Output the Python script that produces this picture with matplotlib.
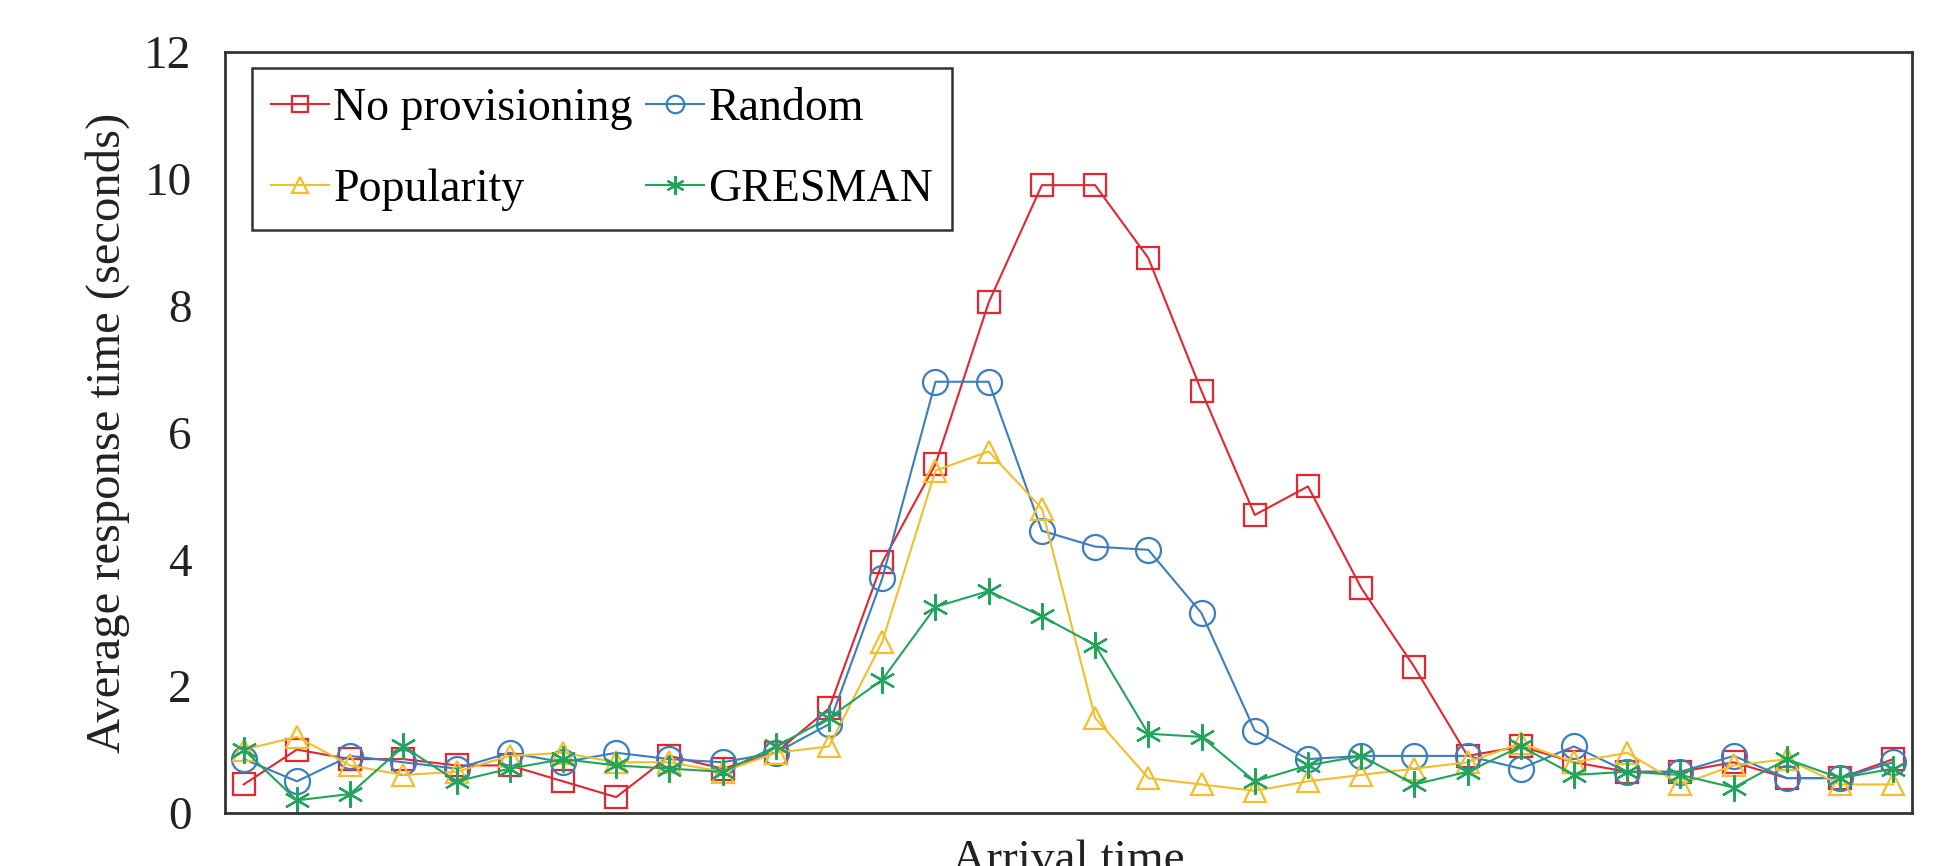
import matplotlib
matplotlib.use("Agg")
import matplotlib.pyplot as plt
import numpy as np

plt.rcParams['font.family'] = ['Liberation Serif', 'DejaVu Serif']

series_names = ["No provisioning", "Random", "Popularity", "GRESMAN"]

no_provisioning = [0.45, 1.0, 0.85, 0.85, 0.75, 0.75, 0.5, 0.25, 0.9, 0.7, 0.95, 1.65,
                   3.95, 5.5, 8.05, 9.9, 9.9, 8.75, 6.65, 4.7, 5.15, 3.55, 2.3, 0.9,
                   1.05, 0.8, 0.65, 0.65, 0.8, 0.55, 0.55, 0.85]
random_prov = [0.85, 0.5, 0.9, 0.8, 0.7, 0.95, 0.8, 0.95, 0.85, 0.8, 0.95, 1.4,
               3.7, 6.8, 6.8, 4.45, 4.2, 4.15, 3.15, 1.3, 0.85, 0.9, 0.9, 0.9,
               0.7, 1.05, 0.65, 0.65, 0.9, 0.55, 0.55, 0.8]
popularity = [1.0, 1.2, 0.75, 0.6, 0.65, 0.9, 0.95, 0.8, 0.8, 0.65, 0.95, 1.05,
              2.7, 5.4, 5.7, 4.8, 1.5, 0.55, 0.45, 0.35, 0.5, 0.6, 0.7, 0.8,
              1.1, 0.8, 0.95, 0.45, 0.75, 0.85, 0.45, 0.45]
gresman = [1.0, 0.2, 0.3, 1.05, 0.5, 0.7, 0.85, 0.75, 0.7, 0.65, 1.05, 1.5,
           2.1, 3.25, 3.5, 3.1, 2.65, 1.25, 1.2, 0.5, 0.75, 0.9, 0.45, 0.65,
           1.05, 0.6, 0.65, 0.6, 0.4, 0.85, 0.55, 0.7]

y_ticks = [0, 2, 4, 6, 8, 10, 12]

colors = ['#E3262F', '#3A7EC0', '#F2BE2C', '#1FA65A']
markers = ['s', 'o', '^', (6, 2, 0)]

fig = plt.figure(figsize=(19.47, 8.66), dpi=100)
ax = fig.add_axes([0.1156, 0.0612, 0.8664, 0.8788])

x = np.arange(len(no_provisioning))
data = [no_provisioning, random_prov, popularity, gresman]
msizes = [16, 18, 16, 19]
handles = []
for vals, name, c, m, ms in zip(data, series_names, colors, markers, msizes):
    h, = ax.plot(x, vals, color=c, lw=1.5, marker=m, ms=ms, mfc='none', mec=c,
                 mew=1.6, label=name)
    handles.append(h)

ax.set_xlim(-0.35, len(x) - 1 + 0.35)
ax.set_ylim(0, 12)
ax.set_yticks(y_ticks)
ax.set_xticks([])
ax.tick_params(axis='y', length=0, pad=24, labelsize=34, colors='#222222')
for s in ax.spines.values():
    s.set_linewidth(2)
    s.set_color('#333333')

ax.set_ylabel("Average response time (seconds)", fontsize=35, labelpad=10, color='#222222')
ax.set_xlabel("Arrival time", fontsize=34, labelpad=19, color='#222222')

# legend rows: (No provisioning, Random), (Popularity, GRESMAN)
order = [0, 2, 1, 3]
leg = ax.legend([handles[i] for i in order], [series_names[i] for i in order],
                ncol=2, loc='upper left', bbox_to_anchor=(0.016, 0.979),
                borderaxespad=0, fontsize=33, frameon=True, fancybox=False,
                handlelength=1.25, handletextpad=0.1, columnspacing=0.3,
                labelspacing=0.85, borderpad=0.42, markerscale=0.7)
leg.get_frame().set_edgecolor('black')
leg.get_frame().set_linewidth(1.8)

fig.savefig("out.png", dpi=100)
